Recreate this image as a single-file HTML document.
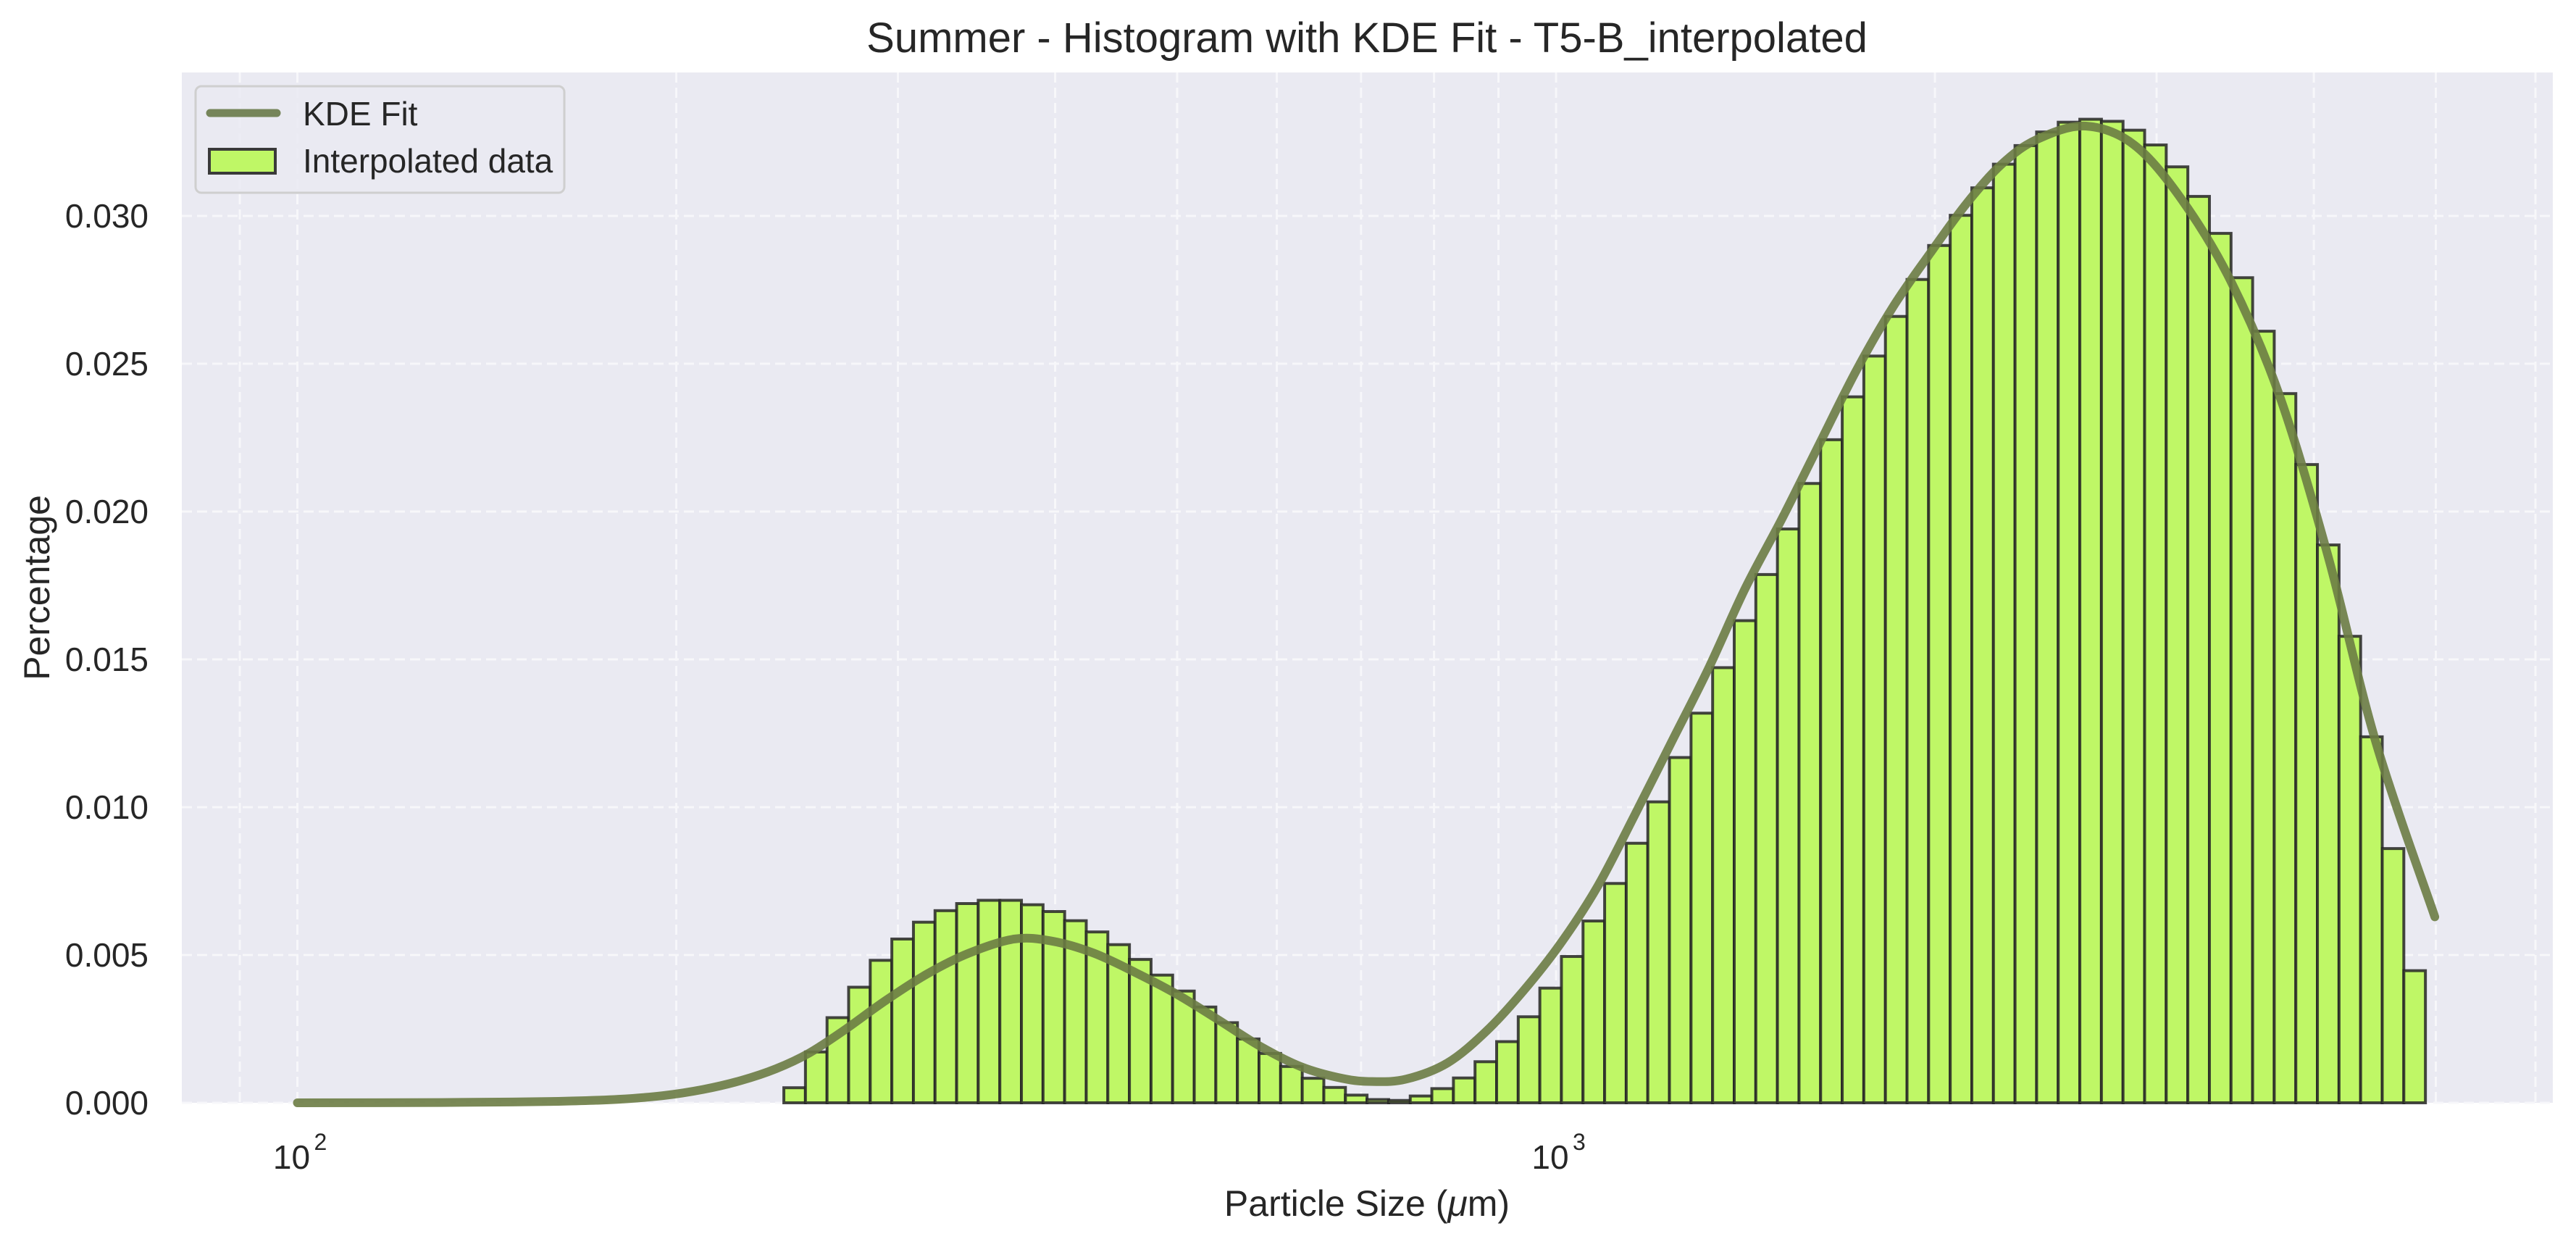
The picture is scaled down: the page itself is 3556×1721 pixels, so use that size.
<!DOCTYPE html>
<html><head><meta charset="utf-8"><title>Summer - Histogram with KDE Fit</title>
<style>html,body{margin:0;padding:0;background:#fff;}svg{display:block;}text{font-family:"Liberation Sans",Arial,sans-serif;fill:#262626;}</style>
</head><body>
<svg id="chart" xmlns="http://www.w3.org/2000/svg" width="3556" height="1721" viewBox="0 0 3556 1721">
<rect x="0" y="0" width="3556" height="1721" fill="#ffffff"/>
<rect x="251" y="100" width="3273" height="1422" fill="#eaeaf2"/>
<g id="grid"></g>
<g id="bars"></g>
<g id="kde"></g>
<g id="yticks"></g>
<g id="xticks"></g>
<text x="1887" y="72" font-size="58" text-anchor="middle">Summer - Histogram with KDE Fit - T5-B_interpolated</text>
<text x="1887" y="1678" font-size="50" text-anchor="middle">Particle Size (<tspan font-style="italic">μ</tspan>m)</text>
<text x="0" y="0" font-size="50" text-anchor="middle" transform="translate(68,811) rotate(-90)">Percentage</text>
<g>
<rect x="270" y="119" width="509" height="147" rx="8" fill="#eaeaf2" fill-opacity="0.85" stroke="#cfcfcf" stroke-width="3"/>
<line x1="290" y1="156" x2="382" y2="156" stroke="#76855a" stroke-width="11" stroke-linecap="round"/>
<text x="418" y="173" font-size="46">KDE Fit</text>
<rect x="289" y="206" width="91" height="33" fill="#bff766" stroke="#3a3a3a" stroke-width="4"/>
<text x="418" y="238" font-size="46">Interpolated data</text>
</g>
</svg>
<script>
// ---- data ----
const binLow = 243.5;   // µm, left edge of first bin
const binHigh = 4906;   // µm, right edge of last bin
const barValues = [0.00051,0.00172,0.00288,0.00391,0.00482,0.00554,0.00611,0.00650,0.00674,0.00685,
0.00685,0.00670,0.00647,0.00616,0.00578,0.00535,0.00485,0.00432,0.00378,0.00324,
0.00271,0.00216,0.00167,0.00123,0.00083,0.00052,0.00026,0.00011,0.00008,0.00023,
0.00048,0.00084,0.00139,0.00207,0.00291,0.00388,0.00495,0.00615,0.00742,0.00878,
0.01018,0.01168,0.01318,0.01472,0.01631,0.01787,0.01941,0.02095,0.02243,0.02388,
0.02526,0.02660,0.02785,0.02900,0.03002,0.03095,0.03175,0.03238,0.03284,0.03317,
0.03327,0.03320,0.03290,0.03240,0.03166,0.03066,0.02941,0.02791,0.02610,0.02399,
0.02159,0.01887,0.01578,0.01238,0.00860,0.00447];
const kdeSizes = [100,130,150,165,180,195,210,225,240,255,271.8,293.1,316.5,341.5,371.1,397.6,428.8,463.1,499.4,538.5,581.6,627.3,677.3,715,760,820,880.6,942.2,1008,1078.4,1153.5,1234.5,1321,1413.5,1512.4,1618.2,1731.6,1852.2,1982,2120,2260,2411,2635,2880,3143,3434,3753,4103,4482,4991];
const kdeValues = [0,0.00001,0.00003,0.00006,0.00012,0.00024,0.00045,0.00075,0.00115,0.00168,0.00245,0.00345,0.00436,0.00506,0.00554,0.00547,0.00507,0.00441,0.00368,0.00282,0.00192,0.00122,0.00082,0.00072,0.0008,0.00135,0.00243,0.00379,0.00538,0.0073,0.00969,0.01218,0.01467,0.0174,0.01977,0.02227,0.02476,0.02692,0.02873,0.03043,0.03175,0.03259,0.03304,0.0324,0.03054,0.02782,0.02397,0.01853,0.01218,0.00629];
const yTicks = [0,0.005,0.010,0.015,0.020,0.025,0.030];
const yTickLabels = ["0.000","0.005","0.010","0.015","0.020","0.025","0.030"];
const xMajor = [100,1000];
const xMajorExp = ["2","3"];
const xMinor = [90,200,300,400,500,600,700,800,900,2000,3000,4000,5000,6000];

// ---- axes ----
const NS = "http://www.w3.org/2000/svg";
const PL = 251, PR = 3524, PT = 100, PB = 1522;
function xs(v){ return 410.5 + (Math.log10(v) - 2) * 1737.5; }
function ys(v){ return PB - v * 40800; }
function mk(tag, attrs, parent){ const e = document.createElementNS(NS, tag); for (const k in attrs) e.setAttribute(k, attrs[k]); parent.appendChild(e); return e; }

const grid = document.getElementById('grid');
xMinor.concat(xMajor).forEach(v => {
  const x = xs(v);
  const l = mk('line', {x1:x, x2:x, y1:PT, y2:PB, stroke:'#f7f7fa', 'stroke-width':3, 'stroke-dasharray':'14 7'}, grid);
  
  
});
yTicks.forEach(v => {
  const y = ys(v);
  const l = mk('line', {x1:PL, x2:PR, y1:y, y2:y, stroke:'#f7f7fa', 'stroke-width':3, 'stroke-dasharray':'14 7'}, grid);
  
  
});

// bars
const bars = document.getElementById('bars');
const lLo = Math.log10(binLow), lHi = Math.log10(binHigh), n = barValues.length;
barValues.forEach((v, i) => {
  const a = Math.pow(10, lLo + (lHi - lLo) * i / n), b = Math.pow(10, lLo + (lHi - lLo) * (i + 1) / n);
  const x0 = xs(a), x1 = xs(b), y = ys(v);
  const r = mk('rect', {x:x0, y:y, width:x1 - x0, height:PB - y, fill:'#bff766', stroke:'#262626', 'stroke-opacity':0.85, 'stroke-width':4}, bars);
  
  
});

// kde curve (catmull-rom smoothing)
const pts = kdeSizes.map((s, i) => [xs(s), ys(kdeValues[i])]);
let d = 'M' + pts[0][0] + ',' + pts[0][1];
for (let i = 0; i < pts.length - 1; i++) {
  const p0 = pts[Math.max(0, i - 1)], p1 = pts[i], p2 = pts[i + 1], p3 = pts[Math.min(pts.length - 1, i + 2)];
  const c1 = [p1[0] + (p2[0] - p0[0]) / 6, p1[1] + (p2[1] - p0[1]) / 6];
  const c2 = [p2[0] - (p3[0] - p1[0]) / 6, p2[1] - (p3[1] - p1[1]) / 6];
  d += ' C' + c1[0] + ',' + c1[1] + ' ' + c2[0] + ',' + c2[1] + ' ' + p2[0] + ',' + p2[1];
}
const kp = mk('path', {d:d, fill:'none', stroke:'#6b7c44', 'stroke-opacity':0.9, 'stroke-width':12, 'stroke-linecap':'round', 'stroke-linejoin':'round'}, document.getElementById('kde'));



// y tick labels
const yt = document.getElementById('yticks');
yTicks.forEach((v, i) => {
  const t = mk('text', {x:205, y:ys(v) + 16, 'font-size':46, 'text-anchor':'end'}, yt);
  t.textContent = yTickLabels[i];
  
  
});

// x tick labels
const xt = document.getElementById('xticks');
xMajor.forEach((v, i) => {
  const x = xs(v);
  const t = mk('text', {x:x - 8, y:1613, 'font-size':46, 'text-anchor':'middle'}, xt);
  t.textContent = '10';
  
  
  const s = mk('text', {x:x + 23, y:1587, 'font-size':32, 'text-anchor':'start'}, xt);
  s.textContent = xMajorExp[i];
  
  
});
</script>
</body></html>
